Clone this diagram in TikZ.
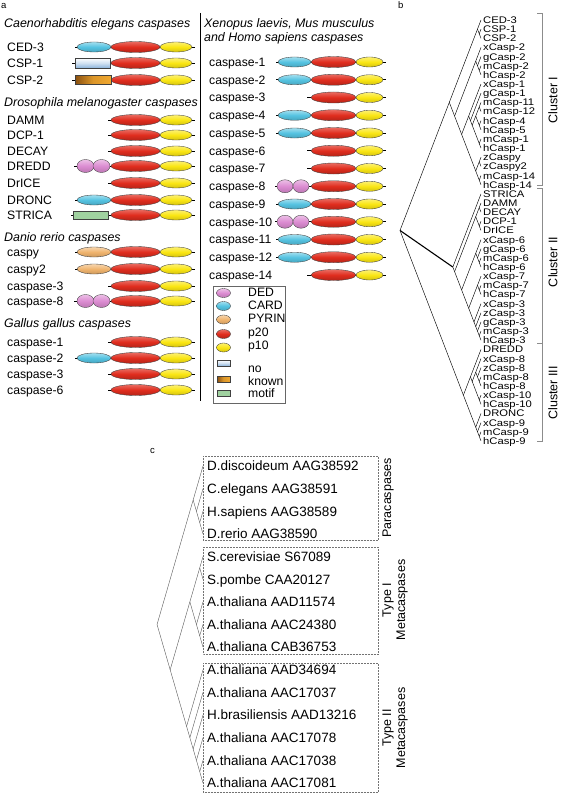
\documentclass[tikz,border=0pt]{standalone}
\usepackage{fontspec}
\setmainfont{Liberation Sans}
\usepackage{graphicx}
\definecolor{cardc}{HTML}{55C3E1}
\definecolor{p20c}{HTML}{E02D1E}
\definecolor{p10c}{HTML}{FAE614}
\definecolor{dedc}{HTML}{DC8CD2}
\definecolor{pyrc}{HTML}{F0B46E}
\definecolor{greenc}{HTML}{A0D2A0}
\definecolor{bluebox}{HTML}{8CB4DC}
\definecolor{orgdark}{HTML}{8A5010}
\definecolor{orglight}{HTML}{F0A830}
\newcommand\coreL[2]{\draw[stub] (#1,#2) -- (195,#2);
  \draw[p20] (135.5,#2) ellipse [x radius=24.5, y radius=5.5];
  \draw[p10] (176,#2) ellipse [x radius=16, y radius=5];}
\newcommand\cardL[1]{\draw[card] (94,#1) ellipse [x radius=17, y radius=5];}
\newcommand\pyrL[1]{\draw[pyr] (94,#1) ellipse [x radius=17, y radius=5];}
\newcommand\dedL[1]{\draw[ded] (85.5,#1) ellipse [x radius=8.5, y radius=6.5];
  \draw[ded] (101.5,#1) ellipse [x radius=8.5, y radius=6.5];}
\newcommand\coreR[2]{\draw[stub] (#1,#2) -- (386,#2);
  \draw[p20] (333.5,#2) ellipse [x radius=22.5, y radius=5.5];
  \draw[p10] (369.5,#2) ellipse [x radius=13.5, y radius=5];}
\newcommand\cardR[1]{\draw[card] (294.5,#1) ellipse [x radius=16.5, y radius=5];}
\newcommand\dedR[1]{\draw[ded] (285,#1) ellipse [x radius=8, y radius=6.5];
  \draw[ded] (301,#1) ellipse [x radius=8, y radius=6.5];}
\newcommand\tbsplit[3]{%
  \pgfmathtruncatemacro\tbk{#3+1}%
  \coordinate (tbP) at ({481-1.7614*(#2-#1)},{20+4.575*(#1+#2)});%
  \coordinate (tbQ) at ({481-1.7614*(#3-#1)},{20+4.575*(#1+#3)});%
  \coordinate (tbR) at ({481-1.7614*(#2-\tbk)},{20+4.575*(\tbk+#2)});%
  \draw[treeb] (tbQ) -- (tbP) -- (tbR);}
\newcommand\tcsplit[3]{%
  \pgfmathtruncatemacro\tck{#3+1}%
  \coordinate (tcP) at ({203-3.283*(#2-#1)},{466+11.32*(#1+#2)});%
  \coordinate (tcQ) at ({203-3.283*(#3-#1)},{466+11.32*(#1+#3)});%
  \coordinate (tcR) at ({203-3.283*(#2-\tck)},{466+11.32*(\tck+#2)});%
  \draw[treec] (tcQ) -- (tcP) -- (tcR);}
\begin{document}
\begin{tikzpicture}[x=1pt,y=-1pt,
  dom/.style={draw=black!75, line width=0.35pt},
  card/.style={dom, top color=cardc!55!white, bottom color=cardc!85!black, middle color=cardc},
  p20/.style={dom, top color=p20c!70!white, bottom color=p20c!80!black, middle color=p20c},
  p10/.style={dom, top color=p10c!60!white, bottom color=p10c!85!black, middle color=p10c},
  ded/.style={dom, top color=dedc!55!white, bottom color=dedc!85!black, middle color=dedc},
  pyr/.style={dom, top color=pyrc!55!white, bottom color=pyrc!85!black, middle color=pyrc},
  csp1/.style={dom, top color=white, bottom color=bluebox, middle color=bluebox!40!white},
  csp2/.style={dom, left color=orgdark, right color=orglight, middle color=orglight!80!orgdark},
  strc/.style={dom, fill=greenc},
  stub/.style={draw=black, line width=0.7pt},
  lab/.style={anchor=west, inner sep=0pt, font=\fontsize{12.2}{13}\selectfont, text height=8.7pt, text depth=0pt},
  ttl/.style={lab, font=\fontsize{12.4}{13}\selectfont\itshape},
  blab/.style={anchor=west, inner sep=0pt, font=\fontsize{9.6}{10}\selectfont, text height=6.9pt, text depth=0pt},
  clab/.style={anchor=west, inner sep=0pt, font=\fontsize{13.5}{14}\selectfont, text height=9.7pt, text depth=0pt},
  rlab/.style={rotate=90, inner sep=0pt, font=\fontsize{12.5}{13}\selectfont},
  panel/.style={anchor=west, inner sep=0pt, font=\fontsize{9.5}{10}\selectfont, text height=6.8pt, text depth=0pt},
  treeb/.style={draw=black, line width=0.45pt},
  treec/.style={draw=black!65, line width=0.4pt},
  bracket/.style={draw=black!45, line width=0.5pt},
  dotbox/.style={draw=black!55, line width=0.5pt, densely dotted}]
\useasboundingbox[fill=white] (0,0) rectangle (564,797);

% ---------- panel a ----------
\node[panel] (la) at (1,5) {a};
\draw[black, line width=0.7pt] (200,13) -- (200,401);

\node[ttl] (t1) at (4,23) {Caenorhabditis elegans caspases};
\node[lab] at (7,47) {CED-3};   \coreL{75}{47}\cardL{47}
\node[lab] at (7,63) {CSP-1};   \coreL{72}{63}\draw[csp1] (75,58) rectangle (110,68);
\node[lab] at (7,80) {CSP-2};   \coreL{72}{80}\draw[csp2] (75,75.5) rectangle (111,84.5);

\node[ttl] (t2) at (4,102) {Drosophila melanogaster caspases};
\node[lab] at (7,120) {DAMM};   \coreL{108}{120}
\node[lab] at (7,135) {DCP-1};  \coreL{108}{135}
\node[lab] at (7,151) {DECAY};  \coreL{108}{151}
\node[lab] at (7,166) {DREDD};  \coreL{74}{166}\dedL{166}
\node[lab] at (7,183) {DrICE};  \coreL{108}{183}
\node[lab] at (7,200) {DRONC};  \coreL{75}{200}\cardL{200}
\node[lab] at (7,215) {STRICA}; \coreL{71}{215}\draw[strc] (73,211) rectangle (108,219.5);

\node[ttl] (t3) at (4,237) {Danio rerio caspases};
\node[lab] at (7,252) {caspy};     \coreL{75}{252}\pyrL{252}
\node[lab] at (7,269) {caspy2};    \coreL{75}{269}\pyrL{269}
\node[lab] at (7,286) {caspase-3}; \coreL{108}{286}
\node[lab] at (7,301) {caspase-8}; \coreL{74}{301}\dedL{301}

\node[ttl] (t4) at (4,323) {Gallus gallus caspases};
\node[lab] at (7,342) {caspase-1}; \coreL{108}{342}
\node[lab] at (7,358) {caspase-2}; \coreL{75}{358}\cardL{358}
\node[lab] at (7,374) {caspase-3}; \coreL{108}{374}
\node[lab] at (7,390) {caspase-6}; \coreL{108}{390}

\node[ttl] (t5) at (204,23) {Xenopus laevis, Mus musculus};
\node[ttl] (t6) at (204,37.5) {and Homo sapiens caspases};
\node[lab] at (209,62)     {caspase-1};  \coreR{276}{62}\cardR{62}
\node[lab] at (209,79.75)  {caspase-2};  \coreR{276}{79.75}\cardR{79.75}
\node[lab] at (209,97.5)   {caspase-3};  \coreR{307}{97.5}
\node[lab] at (209,115.25) {caspase-4};  \coreR{276}{115.25}\cardR{115.25}
\node[lab] at (209,133)    {caspase-5};  \coreR{276}{133}\cardR{133}
\node[lab] at (209,150.75) {caspase-6};  \coreR{307}{150.75}
\node[lab] at (209,168.5)  {caspase-7};  \coreR{307}{168.5}
\node[lab] at (209,186.25) {caspase-8};  \coreR{275}{186.25}\dedR{186.25}
\node[lab] at (209,204)    {caspase-9};  \coreR{276}{204}\cardR{204}
\node[lab] at (209,221.75) {caspase-10}; \coreR{275}{221.75}\dedR{221.75}
\node[lab] at (209,239.5)  {caspase-11}; \coreR{276}{239.5}\cardR{239.5}
\node[lab] at (209,257.25) {caspase-12}; \coreR{276}{257.25}\cardR{257.25}
\node[lab] at (209,275)    {caspase-14}; \coreR{307}{275}

% legend
\draw[black!60, line width=0.5pt] (213,286) rectangle (285,403);
\draw[ded]  (223.5,293) ellipse [x radius=7, y radius=4.5];
\draw[card] (223.5,306) ellipse [x radius=7, y radius=4.5];
\draw[pyr]  (223.5,319.5) ellipse [x radius=7, y radius=4.5];
\draw[p20]  (223.5,334) ellipse [x radius=7, y radius=4.5];
\draw[p10]  (223.5,347.5) ellipse [x radius=7, y radius=4.5];
\draw[csp1] (217,360) rectangle (230,366);
\draw[csp2] (217,376) rectangle (230,382);
\draw[strc] (217,390) rectangle (230,396);
\node[lab] at (248,292) {DED};
\node[lab] at (248,305) {CARD};
\node[lab] at (248,318) {PYRIN};
\node[lab] at (248,332) {p20};
\node[lab] at (248,345) {p10};
\node[lab] at (248,368) {no};
\node[lab] at (248,381) {known};
\node[lab] at (248,393) {motif};

% ---------- panel b ----------
\node[panel] (lb) at (398,5) {b};
\foreach \t [count=\i from 0] in {CED-3,CSP-1,CSP-2,xCasp-2,gCasp-2,mCasp-2,hCasp-2,xCasp-1,gCasp-1,mCasp-11,mCasp-12,hCasp-4,hCasp-5,mCasp-1,hCasp-1,zCaspy,zCaspy2,mCasp-14,hCasp-14,STRICA,DAMM,DECAY,DCP-1,DrICE,xCasp-6,gCasp-6,mCasp-6,hCasp-6,xCasp-7,mCasp-7,hCasp-7,xCasp-3,zCasp-3,gCasp-3,mCasp-3,hCasp-3,DREDD,xCasp-8,zCasp-8,mCasp-8,hCasp-8,xCasp-10,hCasp-10,DRONC,xCasp-9,mCasp-9,hCasp-9}
  \node[blab] (bl\i) at (483,{20+9.15*\i}) {\scalebox{1.17}[1]{\t}};

\coordinate (broot) at (400,230.45);
\coordinate (bI) at ({481-1.7614*18},{20+4.575*18});
\coordinate (bII) at ({481-1.7614*16},{20+4.575*54});
\coordinate (bIII) at ({481-1.7614*10},{20+4.575*82});
\draw[treeb] (bI) -- (broot) -- (bIII);
\draw[treeb, line width=1.1pt] (broot) -- (bII);
\tbsplit{0}{18}{2}\tbsplit{0}{2}{0}\tbsplit{1}{2}{1}
\tbsplit{3}{18}{6}\tbsplit{3}{6}{3}\tbsplit{4}{6}{4}\tbsplit{5}{6}{5}
\tbsplit{7}{18}{14}\tbsplit{7}{14}{7}\tbsplit{8}{14}{8}\tbsplit{9}{14}{12}
\tbsplit{9}{12}{10}\tbsplit{9}{10}{9}\tbsplit{11}{12}{11}\tbsplit{13}{14}{13}
\tbsplit{15}{18}{16}\tbsplit{15}{16}{15}\tbsplit{17}{18}{17}
\tbsplit{19}{35}{19}\tbsplit{20}{35}{23}\tbsplit{20}{23}{21}\tbsplit{20}{21}{20}
\tbsplit{22}{23}{22}\tbsplit{24}{35}{27}\tbsplit{24}{27}{24}\tbsplit{25}{27}{25}
\tbsplit{26}{27}{26}\tbsplit{28}{35}{30}\tbsplit{28}{30}{28}\tbsplit{29}{30}{29}
\tbsplit{31}{35}{31}\tbsplit{32}{35}{32}\tbsplit{33}{35}{33}\tbsplit{34}{35}{34}
\tbsplit{36}{46}{42}\tbsplit{36}{42}{36}\tbsplit{37}{42}{40}\tbsplit{37}{40}{37}
\tbsplit{38}{40}{38}\tbsplit{39}{40}{39}\tbsplit{41}{42}{41}
\tbsplit{43}{46}{43}\tbsplit{44}{46}{44}\tbsplit{45}{46}{45}

\draw[bracket] (537,13) -- (542,13) -- (542,185) -- (537,185);
\draw[bracket] (537,188) -- (542,188) -- (542,343) -- (537,343);
\draw[bracket] (542,343) -- (542,441) -- (537,441);
\node[rlab] (c1) at (553,100) {Cluster I};
\node[rlab] (c2) at (553,262) {Cluster II};
\node[rlab] (c3) at (553,393) {Cluster III};

% ---------- panel c ----------
\node[panel] (lc) at (150,450) {c};
\draw[dotbox] (203,456) rectangle (378,540);
\draw[dotbox] (203,547) rectangle (378,654);
\draw[dotbox] (203,663) rectangle (378,792);
\foreach \t [count=\i from 0] in {D.discoideum AAG38592,C.elegans AAG38591,H.sapiens AAG38589,D.rerio AAG38590,S.cerevisiae S67089,S.pombe CAA20127,A.thaliana AAD11574,A.thaliana AAC24380,A.thaliana CAB36753,A.thaliana AAD34694,A.thaliana AAC17037,H.brasiliensis AAD13216,A.thaliana AAC17078,A.thaliana AAC17038,A.thaliana AAC17081}
  \node[clab] (cl\i) at (207,{466+22.64*\i}) {\t};
\tcsplit{0}{14}{3}\tcsplit{0}{3}{0}\tcsplit{1}{3}{1}\tcsplit{2}{3}{2}
\tcsplit{4}{14}{8}\tcsplit{4}{8}{5}\tcsplit{4}{5}{4}\tcsplit{6}{8}{6}\tcsplit{7}{8}{7}
\tcsplit{9}{14}{9}\tcsplit{10}{14}{10}\tcsplit{11}{14}{11}\tcsplit{12}{14}{12}\tcsplit{13}{14}{13}

\node[rlab] (r1) at (388,498) {Paracaspases};
\node[rlab] (r2) at (388,600) {Type I};
\node[rlab] (r3) at (402,600) {Metacaspases};
\node[rlab] (r4) at (388,728) {Type II};
\node[rlab] (r5) at (402,728) {Metacaspases};
\end{tikzpicture}
\end{document}
